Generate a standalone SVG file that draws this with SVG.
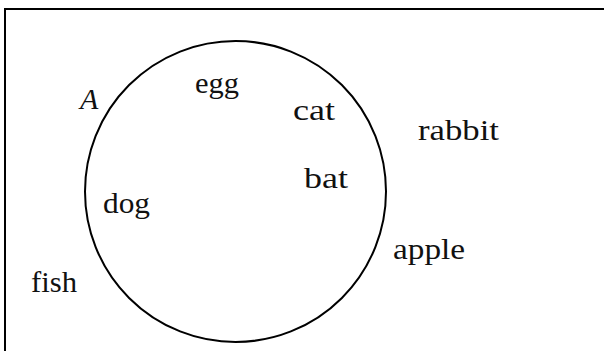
<svg xmlns="http://www.w3.org/2000/svg" width="604" height="351" viewBox="0 0 604 351">
<style>
.lbl{font-family:"Liberation Serif","Times New Roman",serif;font-size:30px;fill:#111}
.it{font-style:italic}
.ln{fill:none;stroke:#000;stroke-width:2}
</style>
<rect width="604" height="351" fill="#fff"/>
<g id="universe"><rect class="ln" x="5" y="9" width="700" height="400"/></g>
<g id="setA"><circle class="ln" cx="235.5" cy="191.5" r="150.5"/>
<text class="lbl it" x="80" y="109">A</text></g>
<g id="egg"><text class="lbl" x="195" y="93" textLength="44" lengthAdjust="spacingAndGlyphs">egg</text></g>
<g id="cat"><text class="lbl" x="293" y="120" textLength="42" lengthAdjust="spacingAndGlyphs">cat</text></g>
<g id="rabbit"><text class="lbl" x="418" y="140" textLength="81" lengthAdjust="spacingAndGlyphs">rabbit</text></g>
<g id="bat"><text class="lbl" x="304" y="188" textLength="44" lengthAdjust="spacingAndGlyphs">bat</text></g>
<g id="dog"><text class="lbl" x="103" y="213" textLength="47" lengthAdjust="spacingAndGlyphs">dog</text></g>
<g id="apple"><text class="lbl" x="393" y="259" textLength="72" lengthAdjust="spacingAndGlyphs">apple</text></g>
<g id="fish"><text class="lbl" x="31" y="292" textLength="46" lengthAdjust="spacingAndGlyphs">fish</text></g>
<g id="connectors"></g>
</svg>
